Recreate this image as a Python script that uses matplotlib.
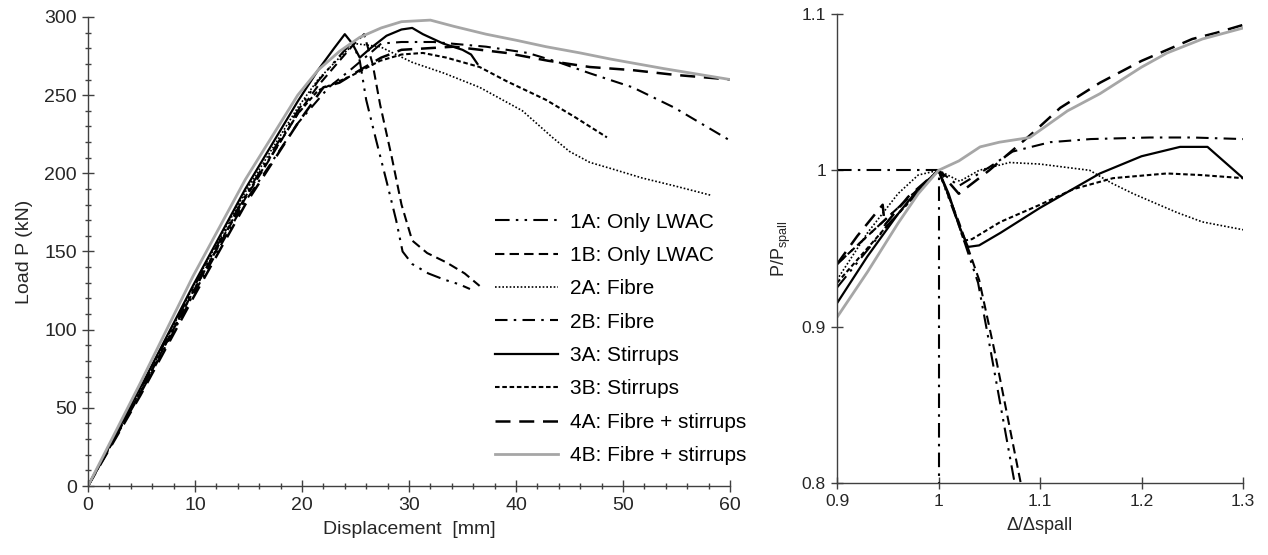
import matplotlib
matplotlib.use("Agg")
import matplotlib.pyplot as plt
from matplotlib.ticker import MultipleLocator

plt.rcParams["font.family"] = ["Liberation Sans", "DejaVu Sans"]
plt.rcParams["mathtext.default"] = "regular"

# ---- left panel: load vs displacement (mm, kN) ----
disp_1A = [0, 4.9, 9.8, 14.7, 19.6, 21.5, 23.5, 24.7, 25.4, 26.0, 26.9, 27.9, 28.8, 29.4, 30.3, 31.8, 33.3, 34.7, 35.7]
load_1A = [0, 62, 126, 186, 240, 259, 275, 284, 272, 247, 222, 195, 170, 150, 142, 136, 132, 129, 126]

disp_1B = [0, 4.9, 9.8, 14.7, 19.6, 21.5, 23.5, 24.9, 25.8, 26.6, 27.3, 28.4, 29.3, 30.3, 31.7, 33.5, 35.2, 36.6]
load_1B = [0, 60, 124, 184, 238, 256, 272, 283, 289, 270, 244, 210, 180, 157, 149, 143, 136, 128]

disp_2A = [0, 4.9, 9.8, 14.7, 19.6, 21.5, 23.5, 24.9, 27.3, 30.3, 33.3, 36.6, 40.6, 43.4, 45.0, 46.9, 48.9, 51.8, 54.8, 58.2]
load_2A = [0, 61, 127, 188, 242, 260, 274, 283, 281, 271, 264, 255, 240, 223, 214, 207, 203, 197, 192, 186]

disp_2B = [0, 4.9, 9.8, 14.7, 19.6, 22.5, 24.5, 26.4, 27.4, 29.3, 32.3, 37.2, 41.1, 44.0, 46.9, 50.9, 54.8, 60]
load_2B = [0, 59, 122, 182, 232, 255, 266, 277, 283, 284, 284, 281, 277, 271, 264, 255, 242, 221]

disp_3A = [0, 4.9, 9.8, 14.7, 19.6, 21.5, 23.0, 24.0, 24.7, 25.4, 26.4, 27.9, 29.3, 30.3, 31.3, 33.2, 35.0, 35.8, 36.4]
load_3A = [0, 63, 128, 190, 246, 266, 280, 289, 283, 274, 280, 288, 292, 293, 289, 283, 279, 276, 270]

disp_3B = [0, 4.9, 9.8, 14.7, 19.6, 21.5, 24.5, 27.3, 29.3, 31.3, 33.5, 36.6, 39.1, 42.8, 45.5, 48.5]
load_3B = [0, 60, 124, 185, 238, 253, 262, 272, 276, 277, 274, 268, 259, 247, 236, 223]

disp_4A = [0, 4.9, 9.8, 14.7, 19.6, 22.0, 23.5, 25.4, 27.4, 29.3, 34.2, 39.1, 43.0, 46.9, 50.9, 54.8, 60]
load_4A = [0, 58, 120, 180, 232, 255, 258, 266, 274, 279, 281, 277, 272, 268, 266, 263, 260]

disp_4B = [0, 4.9, 9.8, 14.7, 19.6, 21.5, 23.5, 25.4, 27.4, 29.3, 32.0, 34.2, 37.2, 40.1, 42.8, 46.0, 48.9, 53.8, 60]
load_4B = [0, 66, 134, 196, 250, 266, 278, 287, 293, 297, 298, 294, 289, 285, 281, 277, 273, 267, 260]

# ---- right panel: normalised to spalling point ----
rx_1A = [0.9, 0.95, 1.0, 1.02, 1.039, 1.049, 1.075]
ry_1A = [0.925, 0.965, 1.0, 0.965, 0.928, 0.893, 0.8]

rx_1B = [0.9, 0.95, 1.0, 1.02, 1.04, 1.055, 1.081]
ry_1B = [0.94, 0.97, 1.0, 0.967, 0.93, 0.885, 0.8]

rx_2A = [0.9, 0.93, 0.96, 0.98, 1.0, 1.021, 1.04, 1.07, 1.1, 1.149, 1.17, 1.192, 1.235, 1.26, 1.3]
ry_2A = [0.93, 0.96, 0.985, 0.997, 1.0, 0.993, 1.0, 1.005, 1.004, 1.0, 0.992, 0.985, 0.973, 0.967, 0.962]

rx_2B = [0.9, 0.95, 1.0, 1.02, 1.05, 1.073, 1.11, 1.15, 1.208, 1.25, 1.3]
ry_2B = [0.94, 0.97, 1.0, 0.99, 1.002, 1.012, 1.018, 1.02, 1.021, 1.021, 1.02]

rx_3A = [0.9, 0.93, 0.96, 0.98, 1.0, 1.01, 1.02, 1.029, 1.04, 1.061, 1.1, 1.159, 1.2, 1.238, 1.265, 1.3]
ry_3A = [0.915, 0.945, 0.972, 0.988, 1.0, 0.985, 0.965, 0.951, 0.952, 0.960, 0.976, 0.998, 1.009, 1.015, 1.015, 0.995]

rx_3B = [0.9, 0.95, 1.0, 1.015, 1.025, 1.033, 1.061, 1.1, 1.133, 1.172, 1.225, 1.258, 1.3]
ry_3B = [0.928, 0.965, 1.0, 0.975, 0.955, 0.956, 0.967, 0.978, 0.988, 0.995, 0.998, 0.997, 0.995]

rx_4A = [0.9, 0.92, 0.945, 0.947, 0.97, 1.0, 1.02, 1.05, 1.093, 1.12, 1.159, 1.2, 1.25, 1.274, 1.3]
ry_4A = [0.94, 0.958, 0.978, 0.965, 0.983, 1.0, 0.985, 1.0, 1.024, 1.04, 1.056, 1.07, 1.084, 1.088, 1.093]

rx_4B = [0.9, 0.93, 0.96, 0.98, 1.0, 1.02, 1.041, 1.06, 1.09, 1.127, 1.159, 1.2, 1.225, 1.26, 1.3]
ry_4B = [0.906, 0.935, 0.966, 0.985, 1.0, 1.006, 1.015, 1.018, 1.021, 1.038, 1.049, 1.066, 1.075, 1.084, 1.091]

ref_x = [0.9, 1.0, 1.0]
ref_y = [1.0, 1.0, 0.8]

labels = ["1A: Only LWAC", "1B: Only LWAC", "2A: Fibre", "2B: Fibre",
          "3A: Stirrups", "3B: Stirrups", "4A: Fibre + stirrups", "4B: Fibre + stirrups"]

GRAY = "#a6a6a6"
styles = [
    dict(color="black", lw=1.5, ls=(0, (7, 3, 1.2, 3, 1.2, 3))),
    dict(color="black", lw=1.5, ls=(0, (4.5, 2.5))),
    dict(color="black", lw=1.2, ls=(0, (1, 1.2))),
    dict(color="black", lw=1.5, ls=(0, (6, 3, 1.2, 3))),
    dict(color="black", lw=1.6, ls="-"),
    dict(color="black", lw=1.5, ls=(0, (2.2, 1.3))),
    dict(color="black", lw=1.8, ls=(0, (6, 3.5))),
    dict(color=GRAY, lw=2.0, ls="-"),
]

left_data = [(disp_1A, load_1A), (disp_1B, load_1B), (disp_2A, load_2A), (disp_2B, load_2B),
             (disp_3A, load_3A), (disp_3B, load_3B), (disp_4A, load_4A), (disp_4B, load_4B)]
right_data = [(rx_1A, ry_1A), (rx_1B, ry_1B), (rx_2A, ry_2A), (rx_2B, ry_2B),
              (rx_3A, ry_3A), (rx_3B, ry_3B), (rx_4A, ry_4A), (rx_4B, ry_4B)]

fig = plt.figure(figsize=(12.68, 5.55), dpi=100)
ax1 = fig.add_axes([0.0694, 0.1243, 0.5063, 0.8451])
ax2 = fig.add_axes([0.6601, 0.1297, 0.3202, 0.8451])

SPINE = "#404040"
TXT = "#262626"
NARROW = ["Liberation Sans Narrow", "Liberation Sans"]
for ax in (ax1, ax2):
    for s in ("top", "right"):
        ax.spines[s].set_visible(False)
    for s in ("left", "bottom"):
        ax.spines[s].set_color(SPINE)
        ax.spines[s].set_linewidth(1.0)
    ax.tick_params(which="major", direction="inout", length=9, width=1.0,
                   color=SPINE, labelsize=12.5, labelcolor=TXT)
    ax.tick_params(which="minor", direction="inout", length=5, width=1.0, color=SPINE)

handles = []
for (x, y), st, lab in zip(left_data, styles, labels):
    h, = ax1.plot(x, y, label=lab, **st)
    handles.append(h)

ax1.set_xlim(0, 60)
ax1.set_ylim(0, 300)
ax1.xaxis.set_major_locator(MultipleLocator(10))
ax1.xaxis.set_minor_locator(MultipleLocator(2))
ax1.yaxis.set_major_locator(MultipleLocator(50))
ax1.yaxis.set_minor_locator(MultipleLocator(10))
for lbl in ax1.get_xticklabels() + ax1.get_yticklabels():
    lbl.set_family(NARROW)
    lbl.set_fontsize(14)
ax1.set_xlabel("Displacement  [mm]", fontsize=14, family=NARROW, color=TXT, labelpad=5)
ax1.set_ylabel("Load P (kN)", fontsize=14, family=NARROW, color=TXT, labelpad=8)

fig.legend(handles=handles, loc="upper left", bbox_to_anchor=(0.3904, 0.617),
           frameon=False, fontsize=15, handlelength=3.0, handletextpad=0.58,
           labelspacing=0.69, borderaxespad=0, borderpad=0)

ax2.plot(ref_x, ref_y, color="black", lw=1.5, ls=(0, (7, 3, 1.2, 3)))
for (x, y), st in zip(right_data, styles):
    ax2.plot(x, y, **st)

ax2.set_xlim(0.9, 1.3)
ax2.set_ylim(0.8, 1.1)
ax2.set_xticks([0.9, 1.0, 1.1, 1.2, 1.3])
ax2.set_xticklabels(["0.9", "1", "1.1", "1.2", "1.3"])
ax2.set_yticks([0.8, 0.9, 1.0, 1.1])
ax2.set_yticklabels(["0.8", "0.9", "1", "1.1"])
ax2.set_xlabel("Δ/Δspall", fontsize=13, color=TXT, labelpad=6)
ax2.set_ylabel("P/P$_{spall}$", fontsize=13, color=TXT, labelpad=6)

fig.savefig("out.png", dpi=100)
